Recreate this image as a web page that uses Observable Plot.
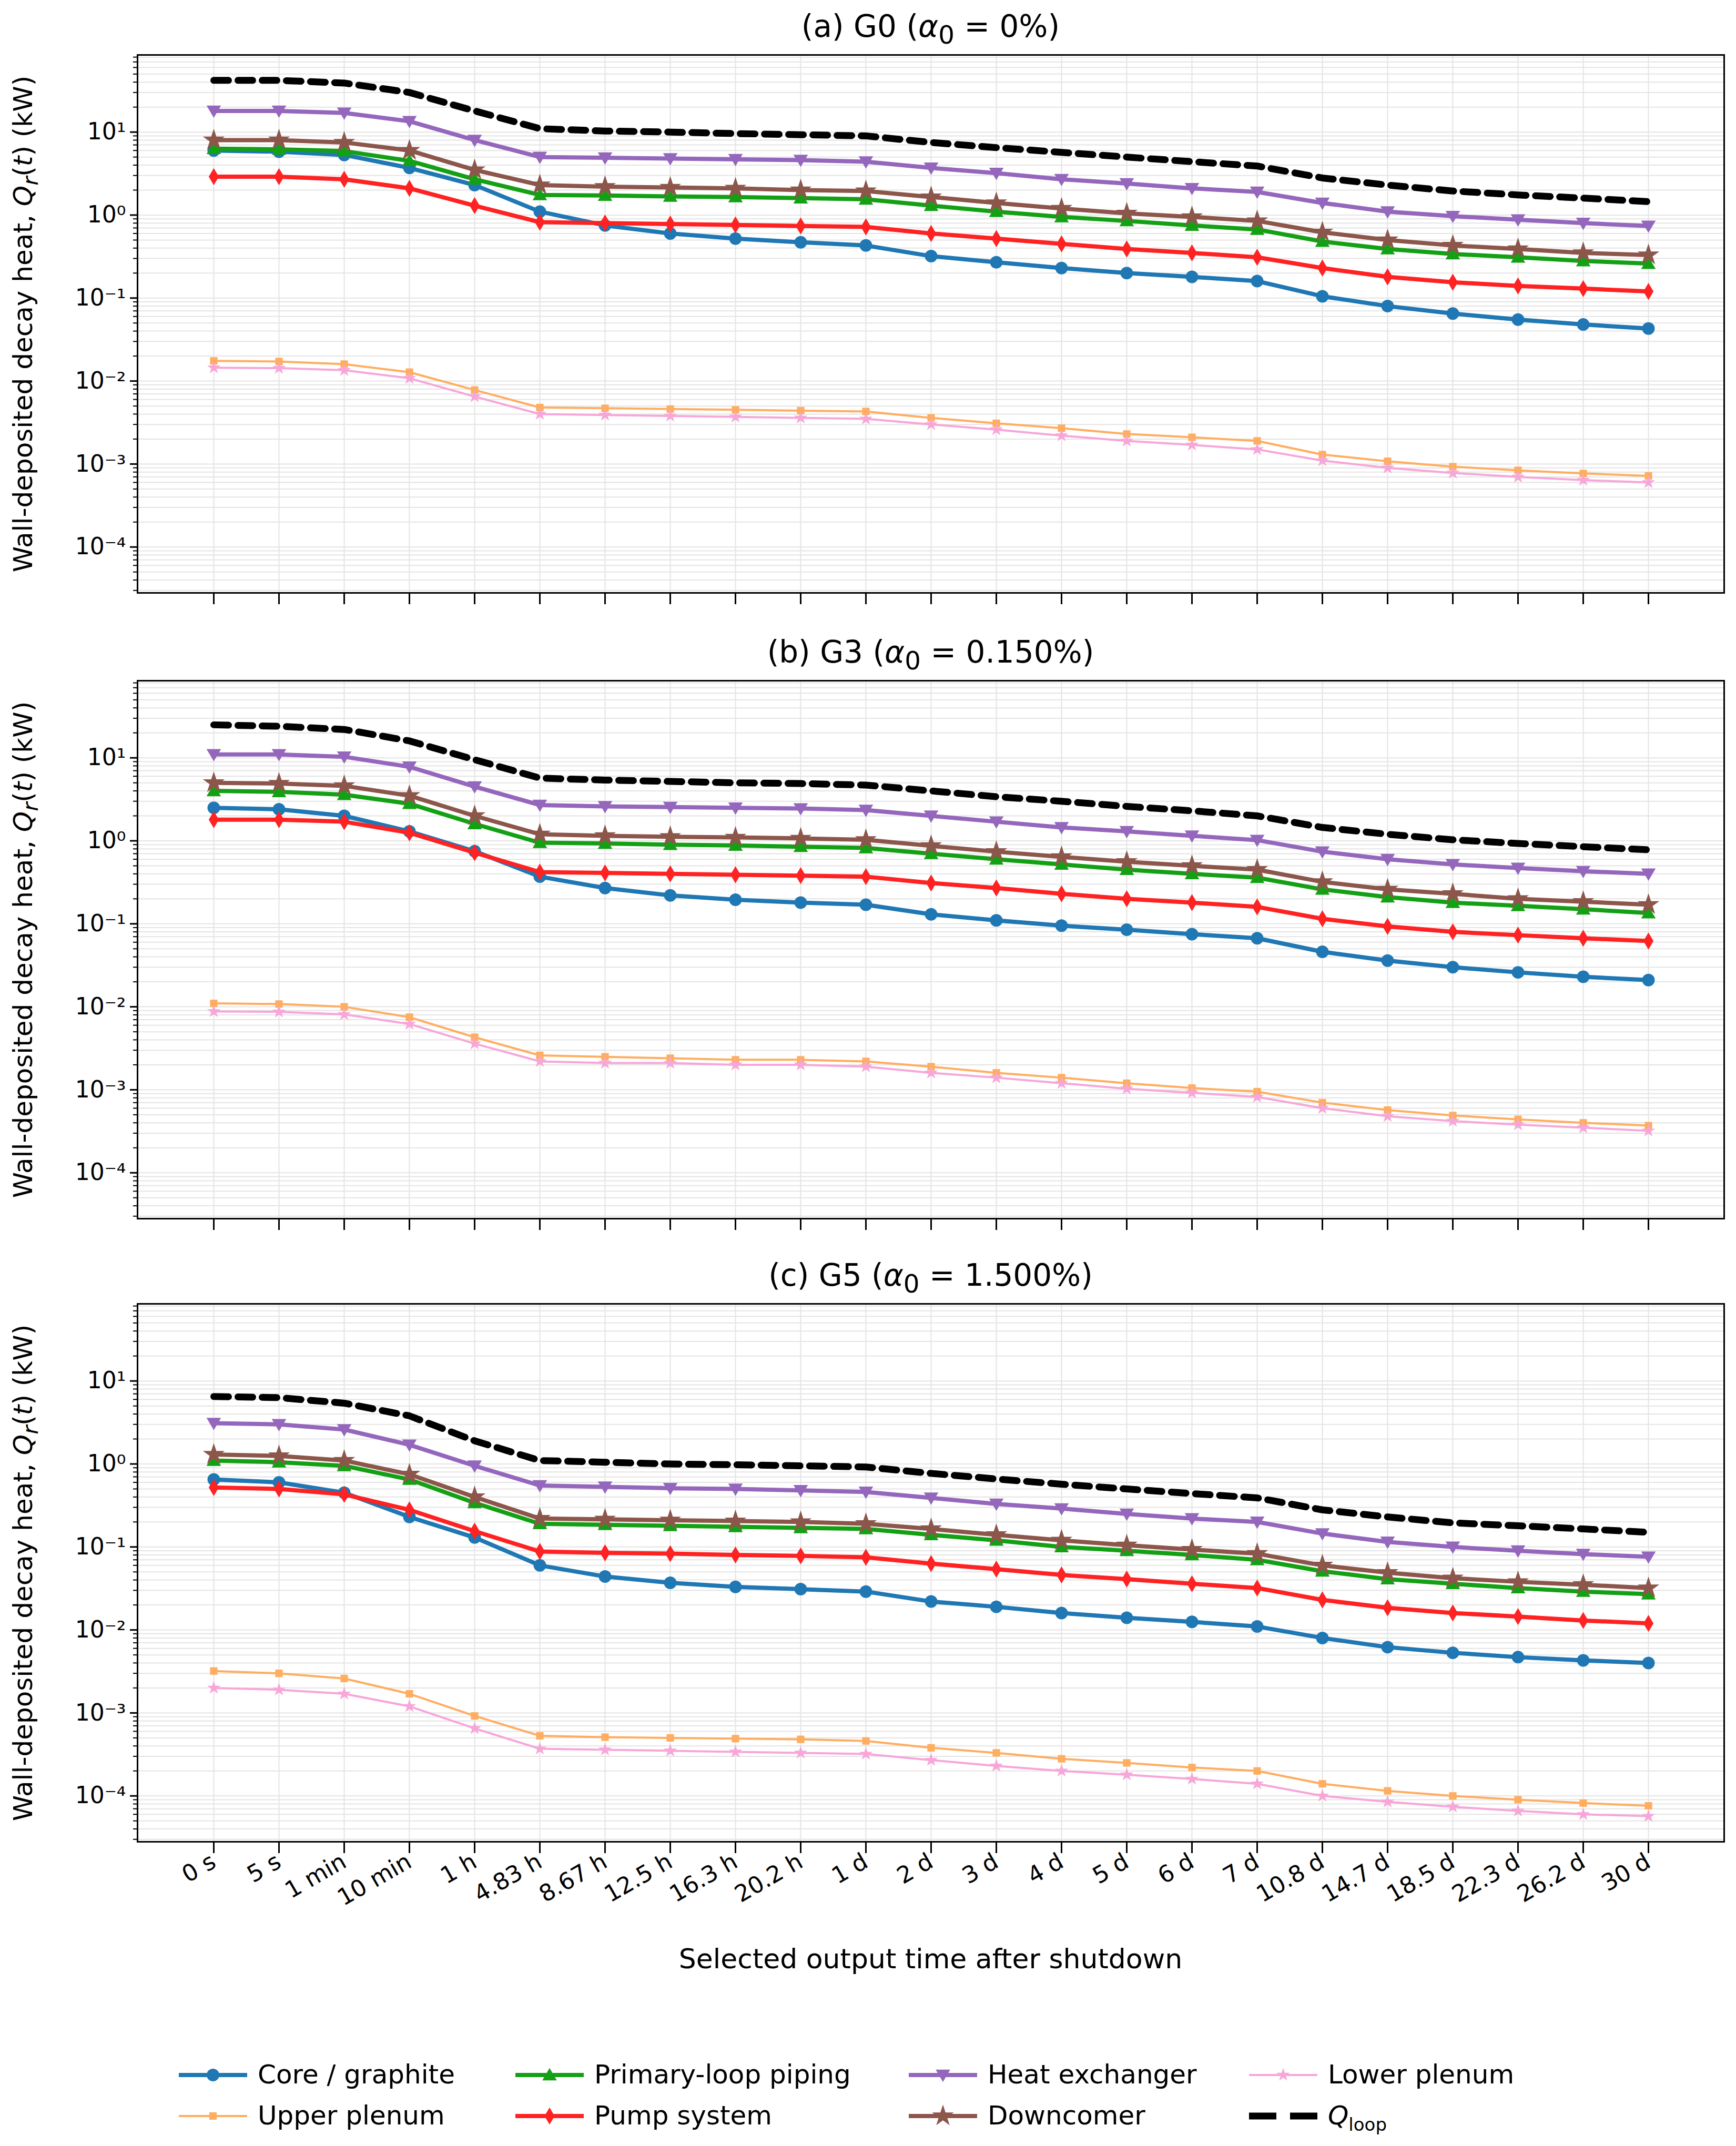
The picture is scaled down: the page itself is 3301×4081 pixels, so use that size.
<!DOCTYPE html>
<html><head><meta charset="utf-8">
<script src="https://cdn.jsdelivr.net/npm/d3@7"></script>
<script src="https://cdn.jsdelivr.net/npm/@observablehq/plot@0.6"></script>
<style>
body{margin:0;background:#fff;font-family:"DejaVu Sans",sans-serif;}
#wrap{position:relative;width:3301px;height:4081px;}
.ttl{position:absolute;left:261px;width:3017px;text-align:center;font-size:58px;color:#000;}
.abs{position:absolute;}
.ylab{position:absolute;font-size:50px;white-space:nowrap;transform:translate(-50%,-50%) rotate(-90deg);}
</style></head><body><div id="wrap"></div>
<script>
const categories=["0 s","5 s","1 min","10 min","1 h","4.83 h","8.67 h","12.5 h","16.3 h","20.2 h","1 d","2 d","3 d","4 d","5 d","6 d","7 d","10.8 d","14.7 d","18.5 d","22.3 d","26.2 d","30 d"];
const yTicks=[1e-4,1e-3,1e-2,1e-1,1,10];
// Panel (a) G0
const a_loop=[42,42,39,30,18,11,10.3,10,9.6,9.3,9.0,7.5,6.5,5.7,5.0,4.4,3.9,2.8,2.3,1.95,1.75,1.6,1.45];
const a_hx=[18,18,17,13.5,8,5.0,4.9,4.8,4.7,4.6,4.4,3.7,3.2,2.7,2.4,2.1,1.9,1.4,1.1,0.97,0.88,0.8,0.74];
const a_down=[8,8,7.5,6,3.5,2.3,2.2,2.15,2.1,2.0,1.95,1.65,1.4,1.2,1.05,0.95,0.85,0.62,0.5,0.43,0.39,0.35,0.33];
const a_pipe=[6.3,6.2,5.9,4.5,2.7,1.75,1.72,1.68,1.65,1.6,1.55,1.3,1.1,0.95,0.85,0.75,0.67,0.48,0.39,0.34,0.31,0.28,0.26];
const a_core=[6.0,5.8,5.3,3.7,2.3,1.1,0.75,0.6,0.52,0.47,0.43,0.32,0.27,0.23,0.20,0.18,0.16,0.105,0.08,0.065,0.055,0.048,0.043];
const a_pump=[2.9,2.9,2.7,2.1,1.3,0.82,0.8,0.78,0.76,0.74,0.72,0.6,0.52,0.45,0.39,0.35,0.31,0.23,0.18,0.155,0.14,0.13,0.12];
const a_upper=[0.0175,0.0172,0.016,0.0128,0.0078,0.0048,0.0047,0.0046,0.0045,0.0044,0.0043,0.0036,0.0031,0.0027,0.0023,0.0021,0.0019,0.0013,0.00108,0.00093,0.00084,0.00077,0.00072];
const a_lower=[0.0145,0.0143,0.0135,0.0108,0.0065,0.004,0.0039,0.0038,0.0037,0.0036,0.0035,0.003,0.0026,0.0022,0.0019,0.0017,0.0015,0.0011,0.0009,0.00078,0.0007,0.00064,0.0006];
// Panel (b) G3
const b_loop=[25,24,22,16,9.5,5.7,5.4,5.2,5.0,4.9,4.7,4.0,3.4,3.0,2.6,2.3,2.0,1.45,1.2,1.03,0.93,0.85,0.78];
const b_hx=[11,11,10.3,7.8,4.5,2.7,2.6,2.55,2.5,2.45,2.35,2.0,1.7,1.45,1.3,1.15,1.02,0.74,0.6,0.52,0.47,0.43,0.4];
const b_down=[5.0,4.9,4.6,3.5,2.0,1.2,1.15,1.12,1.1,1.07,1.03,0.87,0.74,0.64,0.56,0.5,0.45,0.32,0.26,0.23,0.2,0.185,0.17];
const b_pipe=[4.0,3.9,3.6,2.8,1.6,0.95,0.93,0.9,0.88,0.85,0.82,0.7,0.6,0.52,0.45,0.4,0.36,0.26,0.21,0.18,0.165,0.15,0.135];
const b_core=[2.5,2.4,2.0,1.3,0.75,0.37,0.27,0.22,0.195,0.18,0.17,0.13,0.11,0.095,0.085,0.075,0.067,0.046,0.036,0.03,0.026,0.023,0.021];
const b_pump=[1.8,1.8,1.7,1.25,0.72,0.42,0.41,0.4,0.39,0.38,0.37,0.31,0.27,0.23,0.2,0.18,0.16,0.115,0.093,0.08,0.073,0.067,0.062];
const b_upper=[0.011,0.0108,0.01,0.0075,0.0043,0.0026,0.0025,0.0024,0.0023,0.0023,0.0022,0.0019,0.0016,0.0014,0.0012,0.00105,0.00095,0.0007,0.00057,0.00049,0.00044,0.0004,0.00037];
const b_lower=[0.0088,0.0087,0.0081,0.0062,0.0036,0.0022,0.0021,0.0021,0.002,0.002,0.0019,0.0016,0.0014,0.0012,0.00103,0.00092,0.00082,0.0006,0.00048,0.00042,0.00038,0.00035,0.00032];
// Panel (c) G5
const c_loop=[6.5,6.3,5.4,3.8,1.9,1.1,1.05,1.0,0.98,0.95,0.92,0.77,0.66,0.57,0.5,0.44,0.39,0.28,0.23,0.195,0.18,0.165,0.15];
const c_hx=[3.1,3.0,2.6,1.7,0.95,0.55,0.53,0.51,0.5,0.48,0.46,0.39,0.33,0.29,0.25,0.22,0.2,0.145,0.115,0.1,0.09,0.082,0.076];
const c_down=[1.3,1.25,1.1,0.75,0.4,0.22,0.215,0.21,0.205,0.2,0.19,0.165,0.14,0.12,0.105,0.093,0.083,0.06,0.049,0.042,0.038,0.035,0.032];
const c_pipe=[1.1,1.05,0.95,0.65,0.34,0.19,0.185,0.18,0.175,0.17,0.165,0.14,0.12,0.1,0.09,0.08,0.07,0.051,0.041,0.036,0.032,0.029,0.027];
const c_core=[0.65,0.6,0.45,0.23,0.13,0.06,0.044,0.037,0.033,0.031,0.029,0.022,0.019,0.016,0.014,0.0125,0.011,0.008,0.0062,0.0053,0.0047,0.0043,0.004];
const c_pump=[0.52,0.5,0.43,0.28,0.155,0.088,0.085,0.083,0.08,0.078,0.075,0.063,0.054,0.046,0.041,0.036,0.032,0.023,0.0185,0.016,0.0145,0.013,0.012];
const c_upper=[0.0032,0.003,0.0026,0.0017,0.00092,0.00053,0.00051,0.0005,0.00049,0.00048,0.00046,0.00038,0.00033,0.00028,0.00025,0.00022,0.0002,0.00014,0.000115,0.0001,0.00009,0.000082,0.000076];
const c_lower=[0.002,0.0019,0.0017,0.0012,0.00065,0.00037,0.00036,0.00035,0.00034,0.00033,0.00032,0.00027,0.00023,0.0002,0.00018,0.00016,0.00014,0.0001,0.000085,0.000074,0.000066,0.00006,0.000057];

const triDown={draw(ctx,size){const R=Math.sqrt(size/Math.PI);ctx.moveTo(0,1.1*R);ctx.lineTo(-1.15*R,-0.85*R);ctx.lineTo(1.15*R,-0.85*R);ctx.closePath();}};
const triUp={draw(ctx,size){const R=Math.sqrt(size/Math.PI);ctx.moveTo(0,-1.1*R);ctx.lineTo(-1.15*R,0.85*R);ctx.lineTo(1.15*R,0.85*R);ctx.closePath();}};
const thinDiamond={draw(ctx,size){const R=Math.sqrt(size/Math.PI);ctx.moveTo(0,-1.35*R);ctx.lineTo(0.8*R,0);ctx.lineTo(0,1.35*R);ctx.lineTo(-0.8*R,0);ctx.closePath();}};
const series=[
 {key:"upper",name:"Upper plenum",color:"#ffad60",w:4,sym:"square",r:8},
 {key:"lower",name:"Lower plenum",color:"#f7a6d8",w:4,sym:d3.symbolStar,r:8},
 {key:"core",name:"Core / graphite",color:"#1f77b4",w:8,sym:"circle",r:12},
 {key:"pump",name:"Pump system",color:"#ff2222",w:8,sym:thinDiamond,r:12},
 {key:"pipe",name:"Primary-loop piping",color:"#14a014",w:8,sym:triUp,r:12},
 {key:"down",name:"Downcomer",color:"#8c564b",w:8,sym:d3.symbolStar,r:13},
 {key:"hx",name:"Heat exchanger",color:"#9467bd",w:8,sym:triDown,r:12},
 {key:"loop",name:"Qloop",color:"#000",w:13,sym:null}
];
const panels=[
 {title:'(a) G0 (<i>α</i><sub>0</sub> = 0%)',top:104,d:{loop:a_loop,hx:a_hx,down:a_down,pipe:a_pipe,core:a_core,pump:a_pump,upper:a_upper,lower:a_lower}},
 {title:'(b) G3 (<i>α</i><sub>0</sub> = 0.150%)',top:1294,d:{loop:b_loop,hx:b_hx,down:b_down,pipe:b_pipe,core:b_core,pump:b_pump,upper:b_upper,lower:b_lower}},
 {title:'(c) G5 (<i>α</i><sub>0</sub> = 1.500%)',top:2479,d:{loop:c_loop,hx:c_hx,down:c_down,pipe:c_pipe,core:c_core,pump:c_pump,upper:c_upper,lower:c_lower}}
];
const sup={"-":"⁻","0":"⁰","1":"¹","2":"²","3":"³","4":"⁴"};
const fmt=v=>"10"+String(Math.round(Math.log10(v))).split("").map(c=>sup[c]).join("");
const minor=[];for(let e=-5;e<=1;e++)for(let m=1;m<=9;m++){const v=m*Math.pow(10,e);if(v>=2.8e-5&&v<=85)minor.push(v);}
const wrap=document.getElementById("wrap");
const PH=1023;
panels.forEach((p,i)=>{
  const last=i===2;
  const t=document.createElement("div");t.className="ttl";t.style.top=(p.top-88)+"px";t.innerHTML=p.title;wrap.appendChild(t);
  const yl=document.createElement("div");yl.className="ylab";yl.style.left="48px";yl.style.top=(p.top+PH/2)+"px";
  yl.innerHTML='Wall-deposited decay heat, <i>Q<sub>r</sub></i>(<i>t</i>) (kW)';wrap.appendChild(yl);
  const marks=[
    Plot.ruleY(minor,{y:d=>d,stroke:"#e4e4e4",strokeWidth:2}),
    Plot.ruleX(categories,{x:d=>d,stroke:"#e4e4e4",strokeWidth:2}),
    Plot.axisY({ticks:minor,tickSize:8,tickFormat:()=>"",strokeWidth:2,label:null}),
    Plot.axisY({ticks:yTicks,tickSize:14,tickFormat:fmt,fontSize:44,tickPadding:8,strokeWidth:3,label:null}),
    Plot.axisX({tickSize:22,strokeWidth:3,tickRotate:-30,fontSize:44,tickPadding:12,tickFormat:last?(d=>d):(()=>""),label:null})
  ];
  series.forEach(s=>{
    const rows=p.d[s.key].map((v,j)=>({t:categories[j],v}));
    marks.push(Plot.line(rows,{x:"t",y:"v",stroke:s.color,strokeWidth:s.w,strokeDasharray:s.key==="loop"?"28,18":null,strokeLinejoin:"round"}));
    if(s.sym) marks.push(Plot.dot(rows,{x:"t",y:"v",fill:s.color,symbol:s.sym,r:s.r,stroke:"none"}));
  });
  marks.push(Plot.frame({stroke:"#000",strokeWidth:3}));
  const mb=last?280:40;
  const svg=Plot.plot({width:3301,height:PH+20+mb,marginLeft:261,marginRight:23,marginTop:20,marginBottom:mb,
    style:{fontFamily:"DejaVu Sans",fontSize:"44px",color:"#000",background:"transparent"},
    x:{type:"point",domain:categories,padding:1.1,axis:null},
    y:{type:"log",domain:[2.8e-5,85],axis:null},marks});
  svg.classList.add("abs");svg.style.left="0px";svg.style.top=(p.top-20)+"px";wrap.appendChild(svg);
});
const xl=document.createElement("div");xl.className="abs";xl.style.cssText="position:absolute;top:3695px;left:261px;width:3017px;text-align:center;font-size:52px;";
xl.textContent="Selected output time after shutdown";wrap.appendChild(xl);
// legend
const cols=[340,980,1728,2375],rowsY=[3946,4024];
const order=["core","upper","pipe","pump","hx","down","lower","loop"];
const ns="http://www.w3.org/2000/svg";
const lg=document.createElementNS(ns,"svg");lg.setAttribute("width",3301);lg.setAttribute("height",200);lg.style.cssText="position:absolute;left:0;top:3880px;";
wrap.appendChild(lg);
order.forEach((k,idx)=>{
  const s=series.find(q=>q.key===k);const cx=cols[Math.floor(idx/2)],cy=rowsY[idx%2]-3880;
  const ln=document.createElementNS(ns,"line");ln.setAttribute("x1",cx);ln.setAttribute("x2",cx+130);ln.setAttribute("y1",cy);ln.setAttribute("y2",cy);
  ln.setAttribute("stroke",s.color);ln.setAttribute("stroke-width",s.w);if(k==="loop")ln.setAttribute("stroke-dasharray","52,26");lg.appendChild(ln);
  if(s.sym){const sym=typeof s.sym==="string"?(s.sym==="circle"?d3.symbolCircle:d3.symbolSquare):s.sym;
    const pth=document.createElementNS(ns,"path");pth.setAttribute("d",d3.symbol(sym,s.r*s.r*Math.PI)());pth.setAttribute("transform",`translate(${cx+65},${cy})`);pth.setAttribute("fill",s.color);lg.appendChild(pth);}
  const tx=document.createElementNS(ns,"text");tx.setAttribute("x",cx+150);tx.setAttribute("y",cy+16);tx.setAttribute("font-size","50");tx.setAttribute("font-family","DejaVu Sans");
  if(k==="loop"){tx.innerHTML='<tspan font-style="italic">Q</tspan><tspan font-size="34" dy="12">loop</tspan>';}else tx.textContent=s.name;
  lg.appendChild(tx);
});
</script></body></html>
